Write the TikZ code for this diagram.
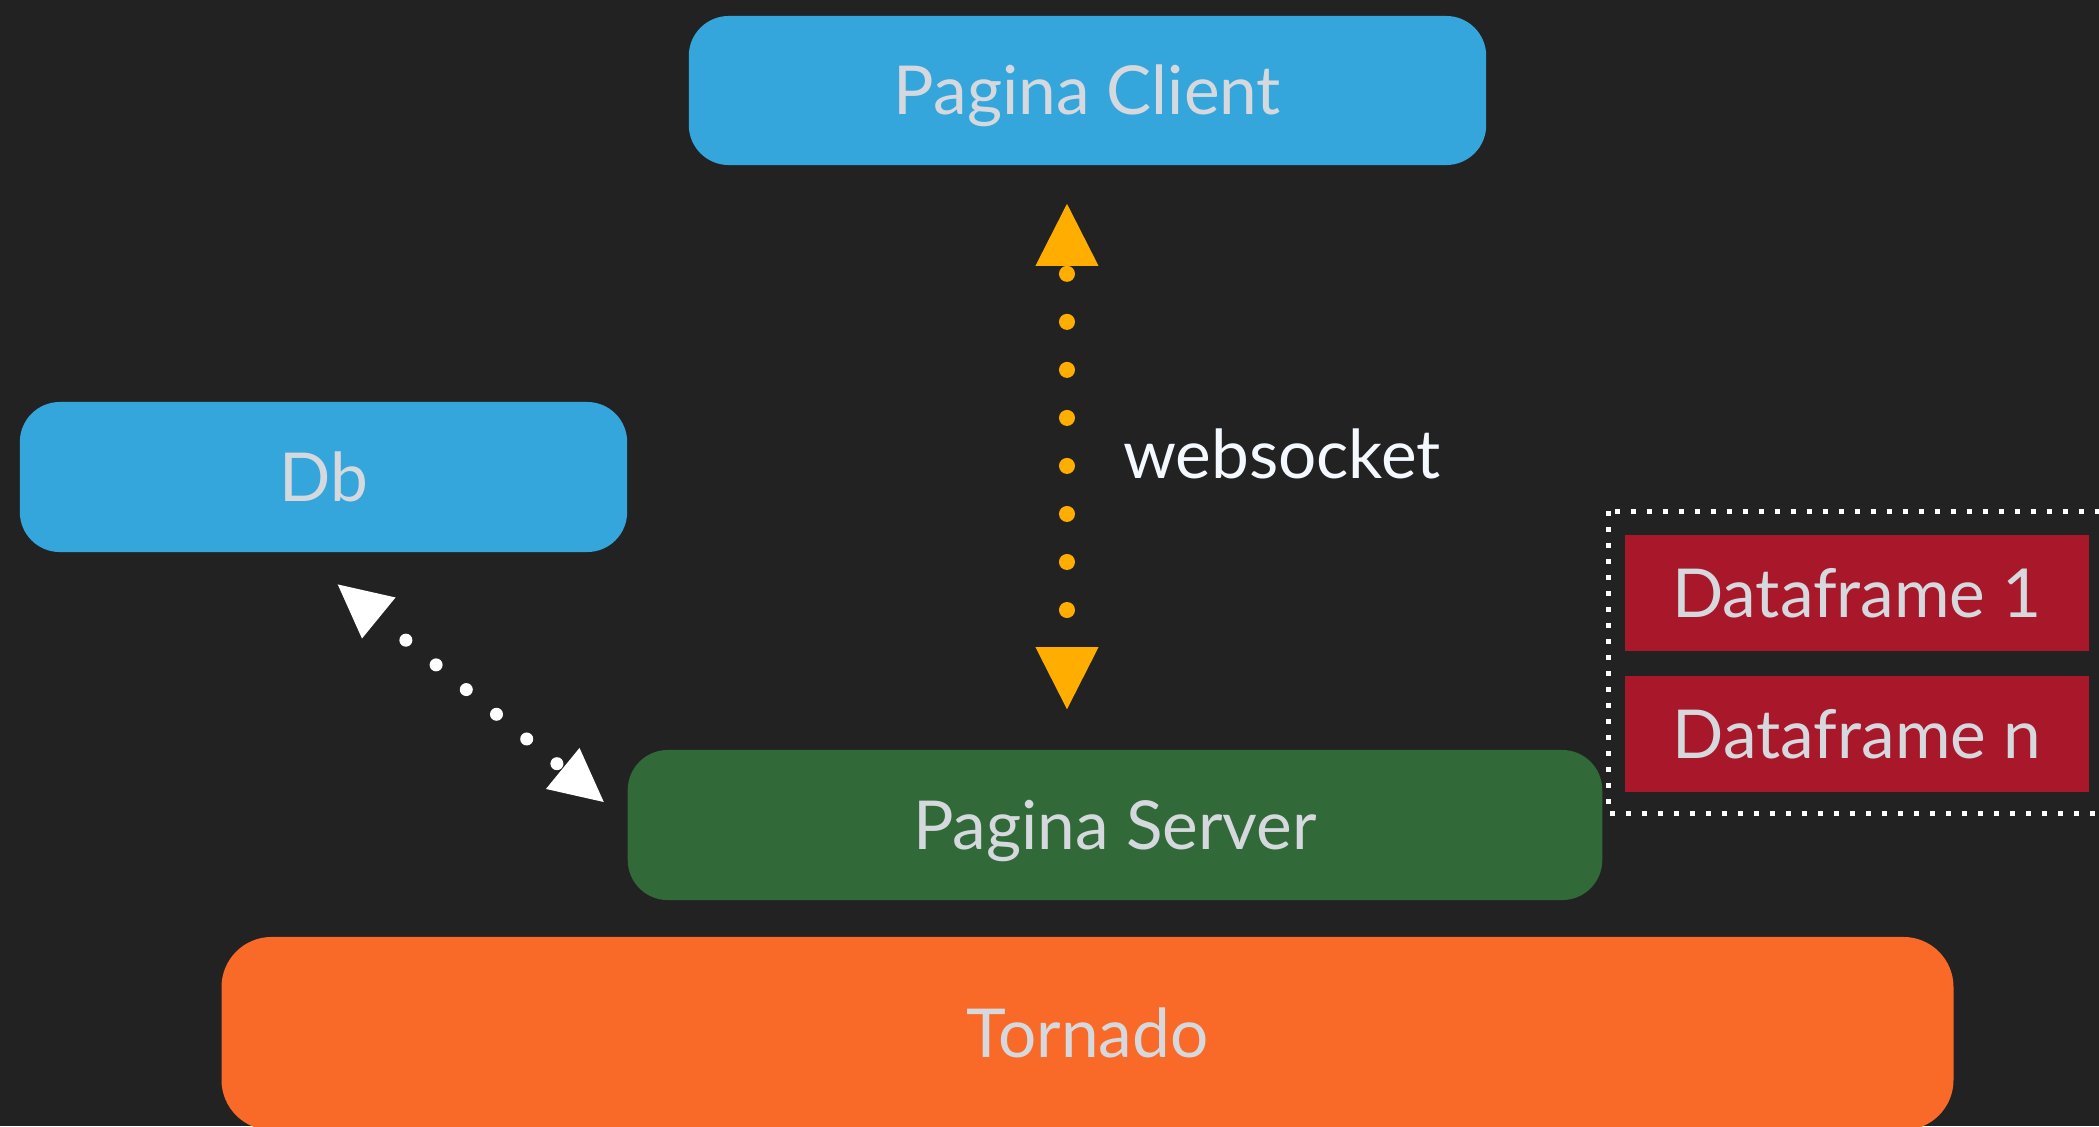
\documentclass[tikz,border=0pt]{standalone}
\usepackage{fontspec}
\setmainfont{Lato}
\usetikzlibrary{arrows.meta}

\definecolor{bgdark}{HTML}{222222}
\definecolor{paginablue}{HTML}{35A6DC}
\definecolor{servergreen}{HTML}{316A38}
\definecolor{tornadoorange}{HTML}{F96A29}
\definecolor{framered}{HTML}{A8182A}
\definecolor{socketyellow}{HTML}{FFAE00}
\definecolor{labelgray}{HTML}{D5D9DD}
\definecolor{labelwhite}{HTML}{F3F9FE}

\begin{document}
\begin{tikzpicture}[x=0.01cm, y=-0.01cm]
	\tikzset{
		box/.style={rounded corners=0.4cm, text=labelgray, inner sep=0pt,
			font=\fontsize{19.2}{22}\selectfont, text height=0.48cm, text depth=0pt},
		frame/.style={fill=framered, text=labelgray, inner sep=0pt,
			font=\fontsize{19.2}{22}\selectfont, text height=0.48cm, text depth=0pt,
			minimum width=4.64cm, minimum height=1.16cm},
		socket/.style={draw=socketyellow, line width=0.16cm, line cap=round,
			dash pattern=on 0pt off 0.48cm, dash phase=0.40cm,
			{Triangle[length=0.62cm, width=0.63cm, line width=0pt 0 0]}-{Triangle[length=0.62cm, width=0.63cm, line width=0pt 0 0]}},
		dblink/.style={draw=white, line width=0.13cm, line cap=round,
			dash pattern=on 0pt off 0.39cm, dash phase=0.04cm,
			{Triangle[length=0.53cm, width=0.53cm, line width=0pt 0 0]}-{Triangle[length=0.53cm, width=0.53cm, line width=0pt 0 0]}},
		group/.style={draw=white, line width=0.05cm, dash pattern=on 0.05cm off 0.11cm},
	}
	% background and page size
	\fill[bgdark] (0,0) rectangle (2099,1126);
	\useasboundingbox (0,0) rectangle (2099,1126);

	% the blocks
	\node[box, fill=paginablue, minimum width=7.97cm, minimum height=1.49cm] (client) at (1087.5,90.5) {Pagina Client};
	\node[box, fill=paginablue, minimum width=6.07cm, minimum height=1.50cm] (db) at (323.5,477) {Db};
	\node[box, fill=servergreen, minimum width=9.74cm, minimum height=1.50cm] (server) at (1115,825) {Pagina Server};
	\node[box, fill=tornadoorange, rounded corners=0.5cm, minimum width=17.31cm, minimum height=1.93cm] (tornado) at (1087.5,1033.5) {Tornado};

	% dataframes held by the server
	\node[frame] (df1) at (1857,593) {Dataframe 1};
	\node[frame] (dfn) at (1857,734) {Dataframe n};
	\draw[group] ([xshift=-0.16cm,yshift=0.23cm]df1.north west) rectangle ([xshift=0.3cm,yshift=-0.21cm]dfn.south east);

	% connections
	\draw[socket, shorten <=0.38cm, shorten >=0.40cm] ([xshift=-0.205cm]client.south) -- ([xshift=-0.205cm]client.south |- server.north)
		node[pos=0.495, anchor=west, xshift=0.48cm, inner sep=0pt, text=labelwhite,
			font=\fontsize{19.2}{22}\selectfont, text height=0.48cm, text depth=0pt] (wslabel) {websocket};
	\draw[dblink, shorten <=0.50cm, shorten >=0.30cm] ([xshift=-0.245cm]db.south) -- ([yshift=0.04cm]server.west);
\end{tikzpicture}
\end{document}
